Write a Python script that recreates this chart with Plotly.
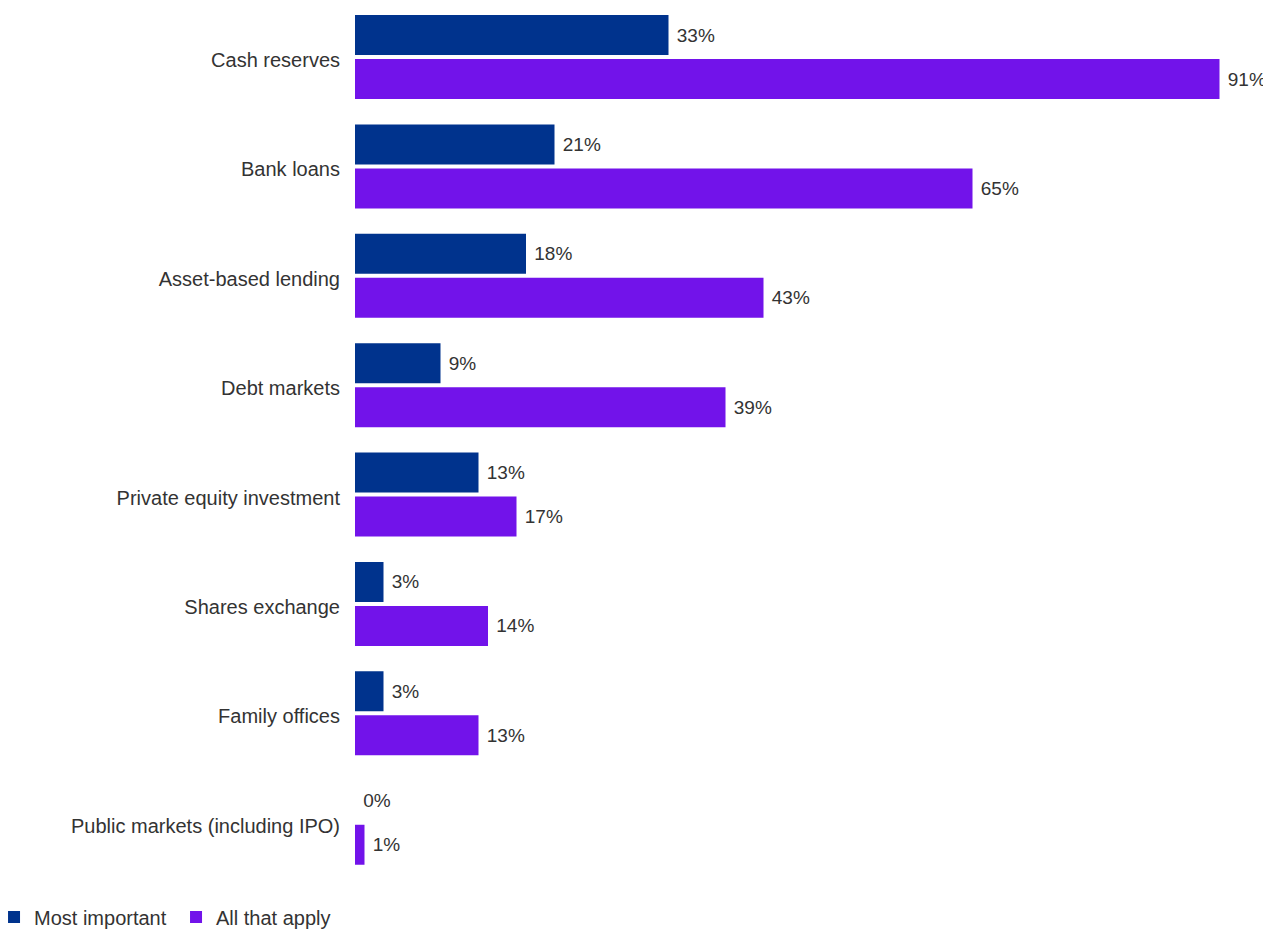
import plotly.graph_objects as go

categories = ["Cash reserves", "Bank loans", "Asset-based lending", "Debt markets",
              "Private equity investment", "Shares exchange", "Family offices",
              "Public markets (including IPO)"]
most_important = [33, 21, 18, 9, 13, 3, 3, 0]
all_that_apply = [91, 65, 43, 39, 17, 14, 13, 1]

FONT = "Liberation Sans, Arial, sans-serif"
TEXT = "#333333"
PAD = "\u00a0"

fig = go.Figure()
fig.add_trace(go.Bar(
    y=categories, x=most_important, orientation="h", name="Most important",
    marker=dict(color="#00338D", line=dict(width=0)),
    text=[f"{PAD}{v}%" for v in most_important], textposition="outside",
    textfont=dict(size=19, color=TEXT, family=FONT),
    cliponaxis=False, constraintext="none",
))
fig.add_trace(go.Bar(
    y=categories, x=all_that_apply, orientation="h", name="All that apply",
    marker=dict(color="#7213EA", line=dict(width=0)),
    text=[f"{PAD}{v}%" for v in all_that_apply], textposition="outside",
    textfont=dict(size=19, color=TEXT, family=FONT),
    cliponaxis=False, constraintext="none",
))

fig.update_layout(
    width=1263, height=921,
    margin=dict(l=347, r=4, t=0, b=51, pad=0, autoexpand=False),
    paper_bgcolor="white", plot_bgcolor="white",
    barmode="group", bargap=0.1956, bargroupgap=0.0909,
    font=dict(family=FONT, size=20, color=TEXT),
    showlegend=True,
    legend=dict(orientation="h", xref="paper", yref="paper",
                x=-0.3958, y=-0.0448, xanchor="left", yanchor="middle",
                font=dict(size=20, color=TEXT), itemwidth=30, entrywidth=137,
                traceorder="normal", itemclick=False),
    xaxis=dict(range=[0, 96], visible=False, showgrid=False, zeroline=False,
               automargin=False),
    yaxis=dict(categoryorder="array", categoryarray=categories,
               range=[7.505, -0.448], autorange=False,
               showgrid=False, zeroline=False, showline=False, automargin=False,
               ticks="outside", ticklen=10, tickcolor="rgba(0,0,0,0)",
               ticklabelshift=-3,
               tickfont=dict(size=20, color=TEXT, family=FONT)),
)

fig.write_html("out.html")
